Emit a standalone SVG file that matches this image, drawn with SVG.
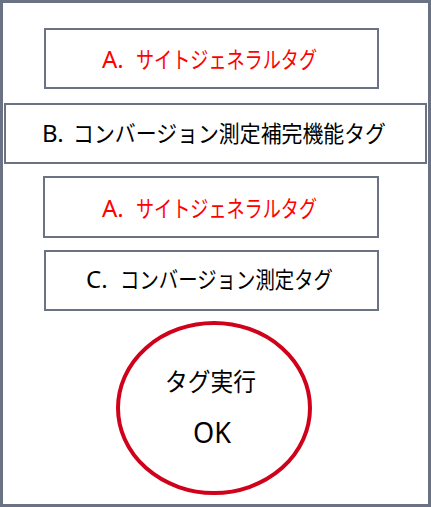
<svg xmlns="http://www.w3.org/2000/svg" width="431" height="507" viewBox="0 0 431 507">
<style>
.box{fill:#fff;stroke:#6b7284;stroke-width:2}
.t{font-family:"Noto Sans CJK JP","Noto Sans",sans-serif;font-size:23px;fill:#000}
.lat{font-family:"Noto Sans","Noto Sans CJK JP",sans-serif;font-size:24px}
.red{fill:#ff0000}
</style>
<rect x="1.5" y="1.5" width="428" height="504" fill="#fff" stroke="#6b7284" stroke-width="3"/>
<g id="nodeA1"><rect class="box" x="45" y="29" width="333" height="59"/><text class="t red" x="102" y="68"><tspan class="lat">A. </tspan><tspan x="136" textLength="181" lengthAdjust="spacingAndGlyphs">サイトジェネラルタグ</tspan></text></g>
<g id="nodeB"><rect class="box" x="5" y="104" width="421" height="59"/><text class="t" x="42" y="142"><tspan class="lat">B. </tspan><tspan x="73" textLength="313" lengthAdjust="spacingAndGlyphs">コンバージョン測定補完機能タグ</tspan></text></g>
<g id="nodeA2"><rect class="box" x="44" y="177" width="334" height="60"/><text class="t red" x="102" y="217"><tspan class="lat">A. </tspan><tspan x="136" textLength="181" lengthAdjust="spacingAndGlyphs">サイトジェネラルタグ</tspan></text></g>
<g id="nodeC"><rect class="box" x="45" y="251" width="333" height="59"/><text class="t" x="86" y="288"><tspan class="lat">C. </tspan><tspan x="120" textLength="213" lengthAdjust="spacingAndGlyphs">コンバージョン測定タグ</tspan></text></g>
<g id="nodeOK"><ellipse cx="214" cy="408" rx="96" ry="85" fill="#fff" stroke="#d0021b" stroke-width="4"/><text class="t" x="165" y="391" style="font-size:25px" textLength="91" lengthAdjust="spacingAndGlyphs">タグ実行</text><text class="t lat" x="193" y="443" style="font-size:29px" textLength="38" lengthAdjust="spacingAndGlyphs">OK</text></g>
<g id="connectors"></g>
</svg>
